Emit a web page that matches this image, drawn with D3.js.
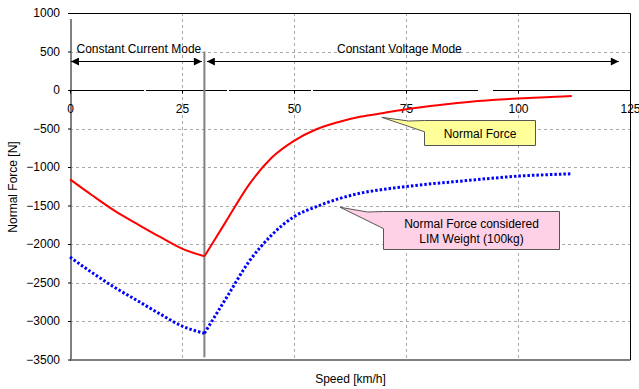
<!DOCTYPE html>
<html>
<head>
<meta charset="utf-8">
<script src="https://cdn.jsdelivr.net/npm/d3@7/dist/d3.min.js"></script>
<style>
  html, body { margin: 0; padding: 0; background: #fff; }
  svg { display: block; font-family: Arial, "Liberation Sans", sans-serif; }
  text { fill: #000; }
</style>
</head>
<body>
<svg id="chart" width="639" height="389"></svg>
<script>
// Speed samples [km/h]
const speeds = [0, 5, 10, 15, 20, 25, 30, 35, 40, 45, 50, 55, 60, 65, 70, 75, 80, 85, 90, 95, 100, 105, 110, 112];
// Normal force [N]
const normalForce = [-1160, -1370, -1570, -1740, -1905, -2060, -2160, -1690, -1225, -880, -660, -510, -415, -345, -298, -250, -210, -178, -150, -128, -110, -96, -83, -78];
// Normal force with the LIM weight (100 kg) taken into account [N]
const normalForceWeight = [-2170, -2375, -2565, -2735, -2905, -3065, -3160, -2690, -2225, -1885, -1645, -1515, -1412, -1338, -1290, -1255, -1222, -1195, -1168, -1142, -1118, -1104, -1092, -1088];
// Speed at which the drive switches from constant current to constant voltage
const modeSwitchSpeed = 30;

const xTicks = [0, 25, 50, 75, 100, 125];
const yTicks = [1000, 500, 0, -500, -1000, -1500, -2000, -2500, -3000, -3500];

const svg = d3.select("#chart");
const plotLeft = 70, plotRight = 630, plotTop = 13, plotBottom = 359.5;

const x = d3.scaleLinear().domain([0, 125]).range([plotLeft, plotRight]);
const y = d3.scaleLinear().domain([-3500, 1000]).range([plotBottom, plotTop]);

// arrowheads for the mode annotations
const defs = svg.append("defs");
defs.append("marker")
  .attr("id", "head").attr("viewBox", "0 0 10 10")
  .attr("refX", 10).attr("refY", 5)
  .attr("markerWidth", 9).attr("markerHeight", 8)
  .attr("markerUnits", "userSpaceOnUse")
  .attr("orient", "auto-start-reverse")
  .append("path").attr("d", "M0,0 L10,5 L0,10 Z").attr("fill", "#000");

// grid
const grid = svg.append("g").attr("stroke", "#a8a8a8").attr("stroke-dasharray", "3,3").attr("stroke-width", 1);
grid.selectAll("line.h")
  .data(yTicks.filter(v => v !== 1000 && v !== 0 && v !== -3500))
  .join("line")
  .attr("x1", plotLeft).attr("x2", plotRight)
  .attr("y1", d => Math.round(y(d)) + 0.5).attr("y2", d => Math.round(y(d)) + 0.5);
grid.selectAll("line.v")
  .data(xTicks.filter(v => v !== 0 && v !== 125))
  .join("line")
  .attr("y1", plotTop).attr("y2", plotBottom)
  .attr("x1", d => Math.round(x(d)) + 0.5).attr("x2", d => Math.round(x(d)) + 0.5);

// frame: top, right and bottom edges
svg.append("path")
  .attr("d", `M${plotLeft},${plotTop + 0.5} H${plotRight + 0.5} V${plotBottom + 0.5} H${plotLeft}`)
  .attr("fill", "none").attr("stroke", "#000").attr("stroke-width", 1);

// y axis
const yAxis = svg.append("g")
  .attr("transform", `translate(${plotLeft + 1},0)`)
  .call(d3.axisLeft(y).tickValues(yTicks).tickSize(3).tickPadding(8).tickFormat(d3.format("d")));
yAxis.select(".domain").attr("stroke", "#808080").attr("stroke-width", 2).attr("d", `M0,${plotTop + 6} V${plotBottom + 1}`);
yAxis.selectAll(".tick line").attr("stroke", "#000");
yAxis.selectAll(".tick text").attr("font-size", 12).attr("font-family", "Arial, 'Liberation Sans', sans-serif").attr("fill", "#000");

// x axis on the zero line
const xAxis = svg.append("g")
  .attr("transform", `translate(0,${Math.round(y(0)) + 0.5})`)
  .call(d3.axisBottom(x).tickValues(xTicks).tickSize(3).tickPadding(11));
xAxis.select(".domain").attr("stroke", "#000").attr("stroke-width", 1)
  .attr("d", `M${plotLeft},0 H${plotRight}`)
  .attr("stroke-dasharray", "74,2,81,2,82,2,165,15,200");
xAxis.selectAll(".tick line").attr("stroke", "#000");
xAxis.selectAll(".tick text").attr("font-size", 12).attr("font-family", "Arial, 'Liberation Sans', sans-serif").attr("fill", "#000");

// mode boundary
svg.append("line")
  .attr("x1", x(modeSwitchSpeed)).attr("x2", x(modeSwitchSpeed))
  .attr("y1", y(500)).attr("y2", y(-3470))
  .attr("stroke", "#808080").attr("stroke-width", 2);

// mode arrows
const arrowY = Math.round(y(375)) + 0.5;
svg.append("line")
  .attr("x1", x(0) + 1).attr("x2", x(modeSwitchSpeed) - 2.5)
  .attr("y1", arrowY).attr("y2", arrowY)
  .attr("stroke", "#000").attr("stroke-width", 1)
  .attr("marker-start", "url(#head)").attr("marker-end", "url(#head)");
svg.append("line")
  .attr("x1", x(modeSwitchSpeed) + 2.5).attr("x2", x(122.5))
  .attr("y1", arrowY).attr("y2", arrowY)
  .attr("stroke", "#000").attr("stroke-width", 1)
  .attr("marker-start", "url(#head)").attr("marker-end", "url(#head)");

svg.append("text").attr("x", 76.5).attr("y", 53).attr("font-size", 12).text("Constant Current Mode");
svg.append("text").attr("x", 337).attr("y", 53).attr("font-size", 12).text("Constant Voltage Mode");

// curves: each mode drawn as its own smooth piece so the switch point stays sharp
const line = d3.line().x(d => x(d[0])).y(d => y(d[1])).curve(d3.curveMonotoneX);
function pieces(vals) {
  const pts = speeds.map((s, i) => [s, vals[i]]);
  return [pts.filter(p => p[0] <= modeSwitchSpeed), pts.filter(p => p[0] >= modeSwitchSpeed)];
}
const plot = svg.append("g");
plot.selectAll("path.nf")
  .data(pieces(normalForce)).join("path")
  .attr("class", "nf")
  .attr("d", line).attr("fill", "none")
  .attr("stroke", "#ff0000").attr("stroke-width", 2);
plot.append("path")
  .datum(pieces(normalForceWeight))
  .attr("d", d => line(d[0]) + line(d[1]))
  .attr("fill", "none")
  .attr("stroke", "#0000ff").attr("stroke-width", 3)
  .attr("stroke-dasharray", "2.5,2");

// callouts
function callout(tip, box, fill, lines) {
  const [bx, by, bw, bh] = box;
  const g = svg.append("g");
  const wedgeTop = by + 0.5, wedgeBottom = by + bh * 0.45;
  g.append("path")
    .attr("d", `M${bx},${by} H${bx + bw} V${by + bh} H${bx} V${wedgeBottom} L${tip[0]},${tip[1]} L${bx - 16},${wedgeTop} Z`)
    .attr("fill", fill).attr("stroke", "#555").attr("stroke-width", 1)
    .attr("stroke-linejoin", "miter");
  lines.forEach((t, i) => {
    g.append("text")
      .attr("x", bx + bw / 2).attr("y", by + bh / 2 + 4.5 + (i - (lines.length - 1) / 2) * 15)
      .attr("text-anchor", "middle").attr("font-size", 12).text(t);
  });
}
callout([x(69.6), y(-355)], [424.5, 120.5, 111, 25], "#ffff99", ["Normal Force"]);
callout([x(60.3), y(-1523)], [383.5, 211.5, 176, 38], "#ffd1e6", ["Normal Force considered", "LIM Weight (100kg)"]);

// axis titles
svg.append("text")
  .attr("transform", `translate(17,187) rotate(-90)`)
  .attr("text-anchor", "middle").attr("font-size", 12).text("Normal Force [N]");
svg.append("text")
  .attr("x", 350.5).attr("y", 383)
  .attr("text-anchor", "middle").attr("font-size", 12).text("Speed [km/h]");
</script>
</body>
</html>
